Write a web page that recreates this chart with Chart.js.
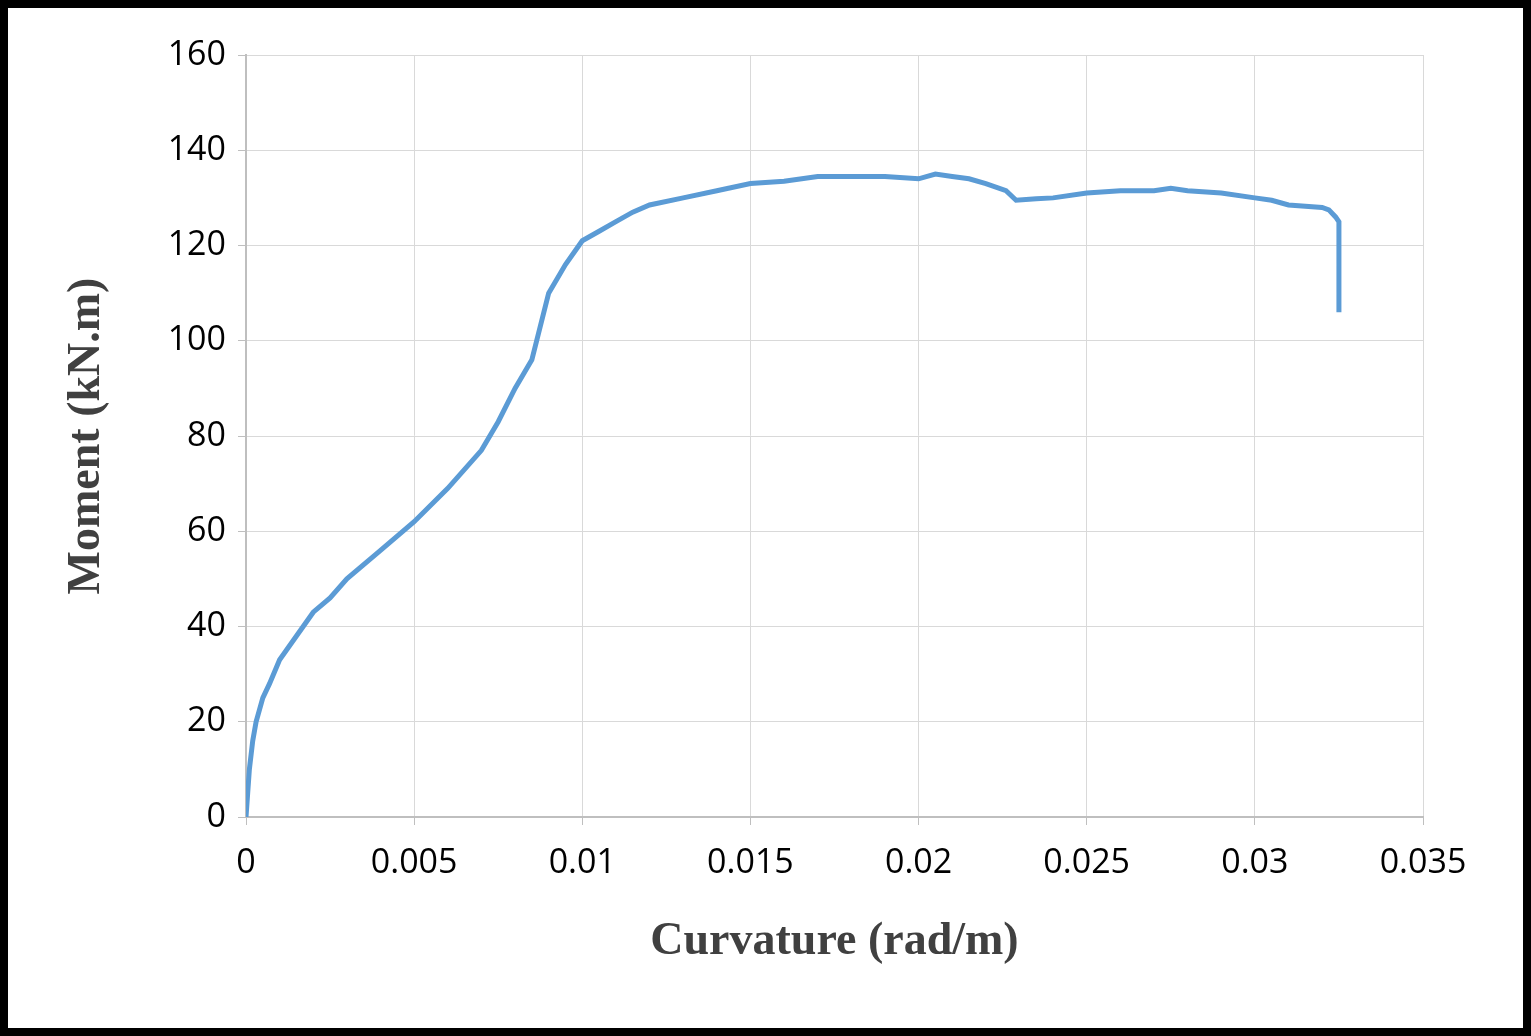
<!DOCTYPE html>
<html><head><style>html,body{margin:0;padding:0;background:#fff}canvas{display:block}</style>
<script src="https://cdn.jsdelivr.net/npm/chart.js@4"></script></head>
<body><div style="width:1531px;height:1036px"><canvas id="c"></canvas></div>
<script>
const curvature=[0,0.00005,0.0001,0.0002,0.0003,0.0005,0.0007,0.001,0.0015,0.002,0.0025,0.003,0.004,0.005,0.006,0.007,0.0075,0.008,0.0085,0.009,0.0095,0.01,0.0105,0.011,0.0115,0.012,0.013,0.014,0.015,0.016,0.017,0.018,0.019,0.02,0.0205,0.021,0.0215,0.022,0.0226,0.0229,0.0235,0.024,0.025,0.026,0.027,0.0275,0.028,0.029,0.03,0.0305,0.031,0.032,0.0322,0.0324,0.0325,0.0325];
const moment=[0,5,10,16,20,25,28,33,38,43,46,50,56,62,69,77,83,90,96,110,116,121,123,125,127,128.5,130,131.5,133,133.5,134.5,134.5,134.5,134,135,134.5,134,133,131.5,129.5,129.8,130,131,131.5,131.5,132,131.5,131,130,129.5,128.5,128,127.5,126,125,106];
const xTicks=[0,0.005,0.01,0.015,0.02,0.025,0.03,0.035];
const frame={id:'frame',beforeDraw(ch){const c=ch.ctx;c.save();c.fillStyle='#fff';c.fillRect(0,0,ch.width,ch.height);c.lineWidth=8;c.strokeStyle='#000';c.strokeRect(4,4,ch.width-8,ch.height-8);c.restore();}};
new Chart(document.getElementById('c'),{type:'scatter',
data:{datasets:[{data:curvature.map((x,i)=>({x,y:moment[i]})),showLine:true,borderColor:'#5b9bd5',borderWidth:5,pointRadius:0,tension:0}]},
options:{responsive:true,maintainAspectRatio:false,animation:false,
layout:{padding:{left:56,right:108,top:55,bottom:62}},
plugins:{legend:{display:false},tooltip:{enabled:false}},
scales:{
x:{type:'linear',min:0,max:0.035,afterFit(s){s.height=157;},
afterBuildTicks(s){s.ticks=xTicks.map(v=>({value:v}));},
ticks:{color:'#000',font:{family:'Open Sans',size:34},padding:18,maxRotation:0,callback:v=>String(+v.toFixed(3))},
grid:{color:'#d9d9d9',lineWidth:1,tickLength:8,tickColor:'#bfbfbf'},border:{color:'#bfbfbf',width:2},
title:{display:true,text:'Curvature (rad/m)',color:'#404040',font:{family:'Liberation Serif',size:46,weight:'bold'},padding:{top:10}}},
y:{min:0,max:160,afterFit(s){s.width=190;},
ticks:{stepSize:20,color:'#000',font:{family:'Open Sans',size:34},padding:12},
grid:{color:'#d9d9d9',lineWidth:1,tickLength:8,tickColor:'#bfbfbf'},border:{color:'#bfbfbf',width:2},
title:{display:true,text:'Moment (kN.m)',color:'#404040',font:{family:'Liberation Serif',size:46,weight:'bold'},padding:{bottom:10}}}}},
plugins:[frame]});
</script></body></html>
